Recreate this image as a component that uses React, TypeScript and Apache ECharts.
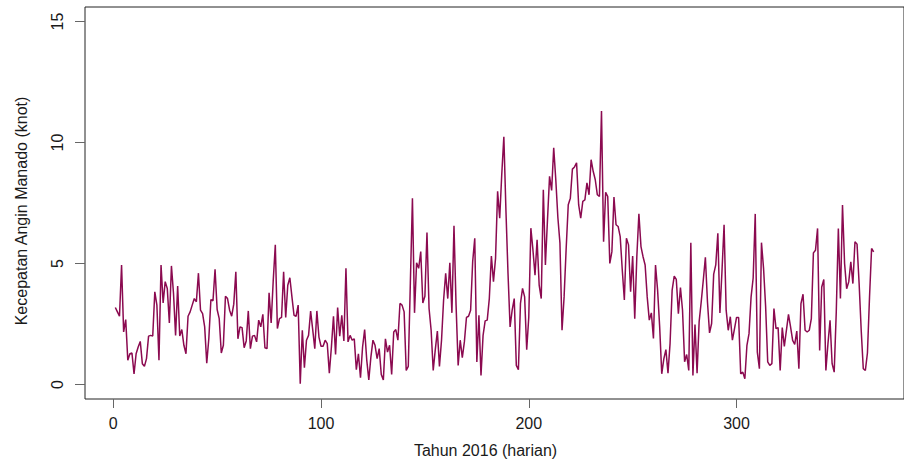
import React, { useEffect, useRef } from "react";
import * as echarts from "echarts";

// Kecepatan angin harian Manado, 2016 (hari 1..366)
const windSpeed: number[] = [
  3.18, 3.0, 2.82, 4.94, 2.17, 2.68, 1.0, 1.27, 1.3, 0.44,
  1.27, 1.55, 1.78, 0.86, 0.75, 1.07, 2.0, 2.03, 2.0, 3.83,
  3.28, 1.0, 4.94, 3.37, 4.25, 3.97, 2.54, 4.9, 3.76, 2.03,
  4.07, 2.0, 2.27, 1.62, 1.27, 2.82, 3.0, 3.28, 3.55, 3.42,
  4.6, 3.07, 2.93, 2.38, 0.88, 1.9, 3.51, 3.46, 4.76, 3.1,
  2.72, 1.3, 1.62, 3.65, 3.55, 3.07, 2.82, 3.32, 4.66, 1.89,
  2.38, 2.35, 1.52, 1.8, 3.04, 1.48, 2.0, 2.03, 1.76, 2.66,
  2.38, 2.9, 1.52, 1.48, 3.79, 2.54, 4.3, 5.77, 2.31, 2.72,
  2.77, 4.66, 2.77, 4.1, 4.41, 3.62, 2.86, 2.82, 3.28, 0.03,
  2.24, 0.69, 1.83, 2.03, 3.03, 2.27, 1.48, 3.04, 1.96, 1.58,
  1.58, 1.83, 1.69, 0.47, 1.55, 2.82, 1.24, 3.18, 2.0, 2.86,
  1.8, 4.8, 1.76, 2.03, 1.83, 1.89, 0.61, 1.27, 0.28, 1.55,
  2.27, 1.02, 0.19, 1.13, 1.83, 1.62, 1.07, 1.48, 0.41, 0.19,
  1.89, 1.34, 1.62, 0.41, 2.17, 2.27, 1.83, 3.35, 3.28, 3.0,
  0.58, 0.75, 4.2, 7.7, 2.96, 5.03, 4.8, 5.49, 3.37, 3.65,
  6.28, 3.14, 2.24, 0.58, 1.44, 2.21, 0.75, 1.83, 3.49, 4.59,
  3.55, 5.03, 2.96, 6.56, 3.28, 0.79, 1.83, 1.11, 1.76, 2.77,
  2.82, 3.07, 5.08, 6.04, 0.93, 2.86, 0.37, 2.03, 2.63, 2.66,
  3.55, 5.31, 4.25, 5.21, 7.98, 6.87, 8.7, 10.24, 7.2, 4.6,
  2.38, 3.07, 3.55, 0.79, 0.61, 3.35, 3.97, 3.62, 1.44, 2.79,
  6.46, 5.56, 4.52, 5.98, 4.11, 3.55, 8.05, 4.94, 6.8, 8.6,
  8.02, 9.78, 8.46, 6.9, 5.84, 2.24, 3.62, 5.63, 7.43, 7.7,
  8.9, 8.99, 9.16, 7.43, 6.87, 7.57, 7.63, 8.33, 7.84, 9.29,
  8.81, 8.46, 7.84, 7.77, 11.3, 5.9, 7.94, 7.77, 5.0, 5.49,
  7.75, 6.6, 6.53, 6.11, 4.73, 3.49, 6.04, 5.77, 3.83, 5.31,
  2.72, 5.28, 7.05, 5.7, 5.28, 4.94, 3.62, 2.66, 2.96, 1.9,
  4.94, 3.9, 2.38, 0.44, 1.06, 1.44, 0.47, 1.69, 3.9, 4.48,
  4.34, 2.93, 4.01, 3.07, 0.94, 1.24, 0.58, 5.86, 0.37, 2.48,
  0.47, 2.6, 3.42, 4.32, 5.26, 3.42, 2.13, 2.52, 4.56, 4.94,
  6.25, 2.96, 4.7, 6.6, 3.07, 2.24, 2.8, 1.83, 2.3, 2.77,
  2.77, 0.44, 0.51, 0.24, 1.62, 2.1, 3.62, 4.4, 7.05, 1.34,
  0.65, 5.86, 4.8, 3.21, 0.93, 0.79, 0.86, 3.14, 2.31, 2.35,
  0.58, 2.35, 1.57, 2.24, 2.9, 2.38, 1.82, 1.66, 2.21, 0.65,
  3.34, 3.73, 2.24, 2.17, 2.24, 2.72, 5.44, 5.55, 6.45, 1.41,
  4.03, 4.34, 0.58, 1.69, 2.65, 0.86, 0.51, 3.0, 6.45, 3.55,
  7.42, 5.0, 3.96, 4.24, 5.07, 4.17, 5.9, 5.8, 4.17, 2.24,
  0.65, 0.58, 1.3, 3.6, 5.62, 5.48,
];

const xTicks: number[] = [0, 100, 200, 300];
const yTicks: number[] = [0, 5, 10, 15];
const xTitle = "Tahun 2016 (harian)";
const yTitle = "Kecepatan Angin Manado (knot)";

const FONT = "'Liberation Sans', Arial, Helvetica, sans-serif";

export default function App() {
  const ref = useRef<HTMLDivElement>(null);

  useEffect(() => {
    document.body.style.margin = "0";
    if (!ref.current) return;
    const chart = echarts.init(ref.current, undefined, { renderer: "svg" });
    const data = windSpeed.map((v, i) => [i + 1, v]);
    const n = windSpeed.length;
    const xPad = (n - 1) * 0.04;
    const yPad = 15 * 0.04;
    chart.setOption({
      animation: false,
      backgroundColor: "#ffffff",
      textStyle: { fontFamily: FONT },
      grid: {
        left: 85,
        top: 7,
        right: -10,
        bottom: 66,
        show: true,
        borderColor: "#222222",
        borderWidth: 1,
        backgroundColor: "transparent",
      },
      xAxis: {
        type: "value",
        min: 1 - xPad,
        max: n + xPad,
        axisLine: { show: false, onZero: false },
        splitLine: { show: false },
        axisTick: {
          show: true,
          customValues: xTicks,
          length: 9,
          lineStyle: { color: "#666666", width: 1 },
        },
        axisLabel: {
          customValues: xTicks,
          fontSize: 16,
          color: "#1a1a1a",
          fontFamily: FONT,
          margin: 16,
        },
        name: xTitle,
        nameLocation: "middle",
        nameGap: 43,
        nameTextStyle: {
          fontSize: 16,
          color: "#1a1a1a",
          fontFamily: FONT,
          padding: [0, 18, 0, 0],
        },
      },
      yAxis: {
        type: "value",
        min: -yPad,
        max: 15 + yPad,
        axisLine: { show: false, onZero: false },
        splitLine: { show: false },
        axisTick: {
          show: true,
          customValues: yTicks,
          length: 10,
          lineStyle: { color: "#666666", width: 1 },
        },
        axisLabel: {
          customValues: yTicks,
          rotate: 90,
          fontSize: 16,
          color: "#1a1a1a",
          fontFamily: FONT,
          margin: 20,
        },
        name: yTitle,
        nameLocation: "middle",
        nameGap: 56,
        nameTextStyle: {
          fontSize: 16,
          color: "#1a1a1a",
          fontFamily: FONT,
          padding: [0, 16, 0, 0],
        },
      },
      series: [
        {
          type: "line",
          data,
          showSymbol: false,
          symbol: "none",
          lineStyle: { color: "#8B0A50", width: 1.5 },
          clip: true,
        },
      ],
    });
    return () => chart.dispose();
  }, []);

  return <div ref={ref} style={{ width: 904, height: 465 }} />;
}
